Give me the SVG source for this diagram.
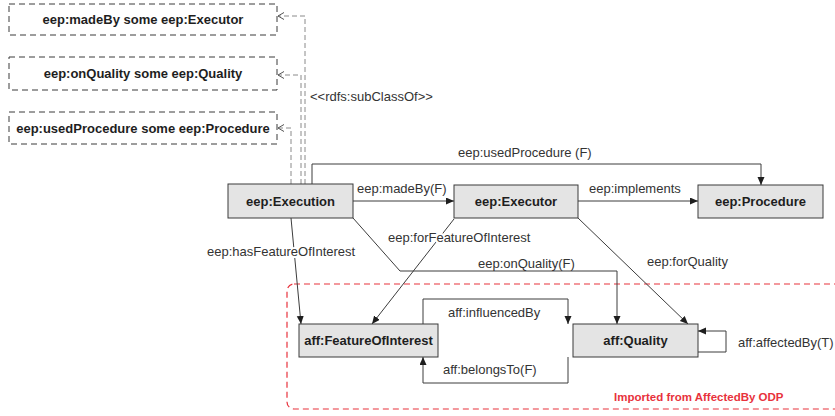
<svg xmlns="http://www.w3.org/2000/svg" width="835" height="416" viewBox="0 0 835 416">
  <style>
    .node rect { fill: #e4e4e4; stroke: #3a3a3a; stroke-width: 1; }
    .node text { font-family: "Liberation Sans", Arial, sans-serif; font-size: 13px; font-weight: bold; fill: #1e1e1e; text-anchor: middle; }
    .restr rect { fill: #ffffff; stroke: #3a3a3a; stroke-width: 1; stroke-dasharray: 6 4; }
    .restr text { font-family: "Liberation Sans", Arial, sans-serif; font-size: 13px; font-weight: bold; fill: #1e1e1e; text-anchor: middle; }
    .edge { fill: none; stroke: #3c3c3c; stroke-width: 1; marker-end: url(#arrow); }
    .sub { fill: none; stroke: #8a8a8a; stroke-width: 1; stroke-dasharray: 5 3; marker-end: url(#open); }
    .lbl { font-family: "Liberation Sans", Arial, sans-serif; font-size: 13px; fill: #333333; }
    .halo { paint-order: stroke; stroke: #ffffff; stroke-width: 4px; stroke-linejoin: round; }
    .module { fill: none; stroke: #e8323c; stroke-width: 1.2; stroke-dasharray: 6 4; }
    .module-lbl { font-family: "Liberation Sans", Arial, sans-serif; font-size: 11.5px; font-weight: bold; fill: #e8323c; }
  </style>
  <defs>
    <marker id="arrow" markerUnits="userSpaceOnUse" markerWidth="9" markerHeight="8" refX="8" refY="3.5" orient="auto">
      <path d="M0,0 L8,3.5 L0,7 z" fill="#1e1e1e"/>
    </marker>
    <marker id="open" markerUnits="userSpaceOnUse" markerWidth="8" markerHeight="8" refX="6.5" refY="3.5" orient="auto">
      <path d="M0.5,0 L6.5,3.5 L0.5,7" fill="none" stroke="#555555" stroke-width="1"/>
    </marker>
  </defs>

  <!-- imported module frame -->
  <g id="module-affectedby">
    <rect class="module" x="287" y="284" width="580" height="125" rx="7"/>
    <text class="module-lbl" x="614" y="401">Imported from AffectedBy ODP</text>
  </g>

  <!-- connectors -->
  <g id="connectors">
    <path class="sub" d="M305 184 V16 H278"/>
    <path class="sub" d="M301 184 V75 H278"/>
    <path class="sub" d="M291 184 V128 H278"/>
    <text class="lbl" x="310" y="101">&lt;&lt;rdfs:subClassOf&gt;&gt;</text>

    <path class="edge" d="M312 184 V164 H761 V185"/>
    <text class="lbl" x="458" y="157">eep:usedProcedure (F)</text>

    <path class="edge" d="M353 201 H454"/>
    <text class="lbl" x="357" y="193">eep:madeBy(F)</text>

    <path class="edge" d="M578 201 H698"/>
    <text class="lbl" x="589" y="193">eep:implements</text>

    <path class="edge" d="M353 218 L400 271 H617 V324"/>
    <text class="lbl" x="478" y="268">eep:onQuality(F)</text>

    <path class="edge" d="M578 218 L688 324"/>
    <text class="lbl" x="647" y="266">eep:forQuality</text>

    <path class="edge" d="M291 218 L301 324"/>
    <text class="lbl halo" x="207" y="256">eep:hasFeatureOfInterest</text>

    <path class="edge" d="M454 219 L372 324"/>
    <text class="lbl halo" x="388" y="242">eep:forFeatureOfInterest</text>

    <path class="edge" d="M423 324 V299 H568 V324"/>
    <text class="lbl" x="448" y="317">aff:influencedBy</text>

    <path class="edge" d="M568 357 V383 H423 V357"/>
    <text class="lbl" x="443" y="374">aff:belongsTo(F)</text>

    <path class="edge" d="M698 352 H726 V331 H698"/>
    <text class="lbl" x="738" y="347">aff:affectedBy(T)</text>
  </g>

  <!-- restriction classes -->
  <g id="r-madeBy" class="restr">
    <rect x="9" y="4" width="268" height="31"/>
    <text x="143" y="24">eep:madeBy some eep:Executor</text>
  </g>
  <g id="r-onQuality" class="restr">
    <rect x="9" y="57" width="268" height="33"/>
    <text x="143" y="78">eep:onQuality some eep:Quality</text>
  </g>
  <g id="r-usedProcedure" class="restr">
    <rect x="9" y="112" width="268" height="32"/>
    <text x="143" y="132.5">eep:usedProcedure some eep:Procedure</text>
  </g>

  <!-- classes -->
  <g id="n-execution" class="node">
    <rect x="228" y="184" width="125" height="34"/>
    <text x="290.5" y="205.5">eep:Execution</text>
  </g>
  <g id="n-executor" class="node">
    <rect x="454" y="185" width="124" height="33"/>
    <text x="516" y="205.5">eep:Executor</text>
  </g>
  <g id="n-procedure" class="node">
    <rect x="698" y="185" width="125" height="33"/>
    <text x="760.5" y="205.5">eep:Procedure</text>
  </g>
  <g id="n-featureOfInterest" class="node">
    <rect x="299" y="324" width="139" height="33"/>
    <text x="368.5" y="345">aff:FeatureOfInterest</text>
  </g>
  <g id="n-quality" class="node">
    <rect x="573" y="324" width="125" height="33"/>
    <text x="635.5" y="345">aff:Quality</text>
  </g>
</svg>
